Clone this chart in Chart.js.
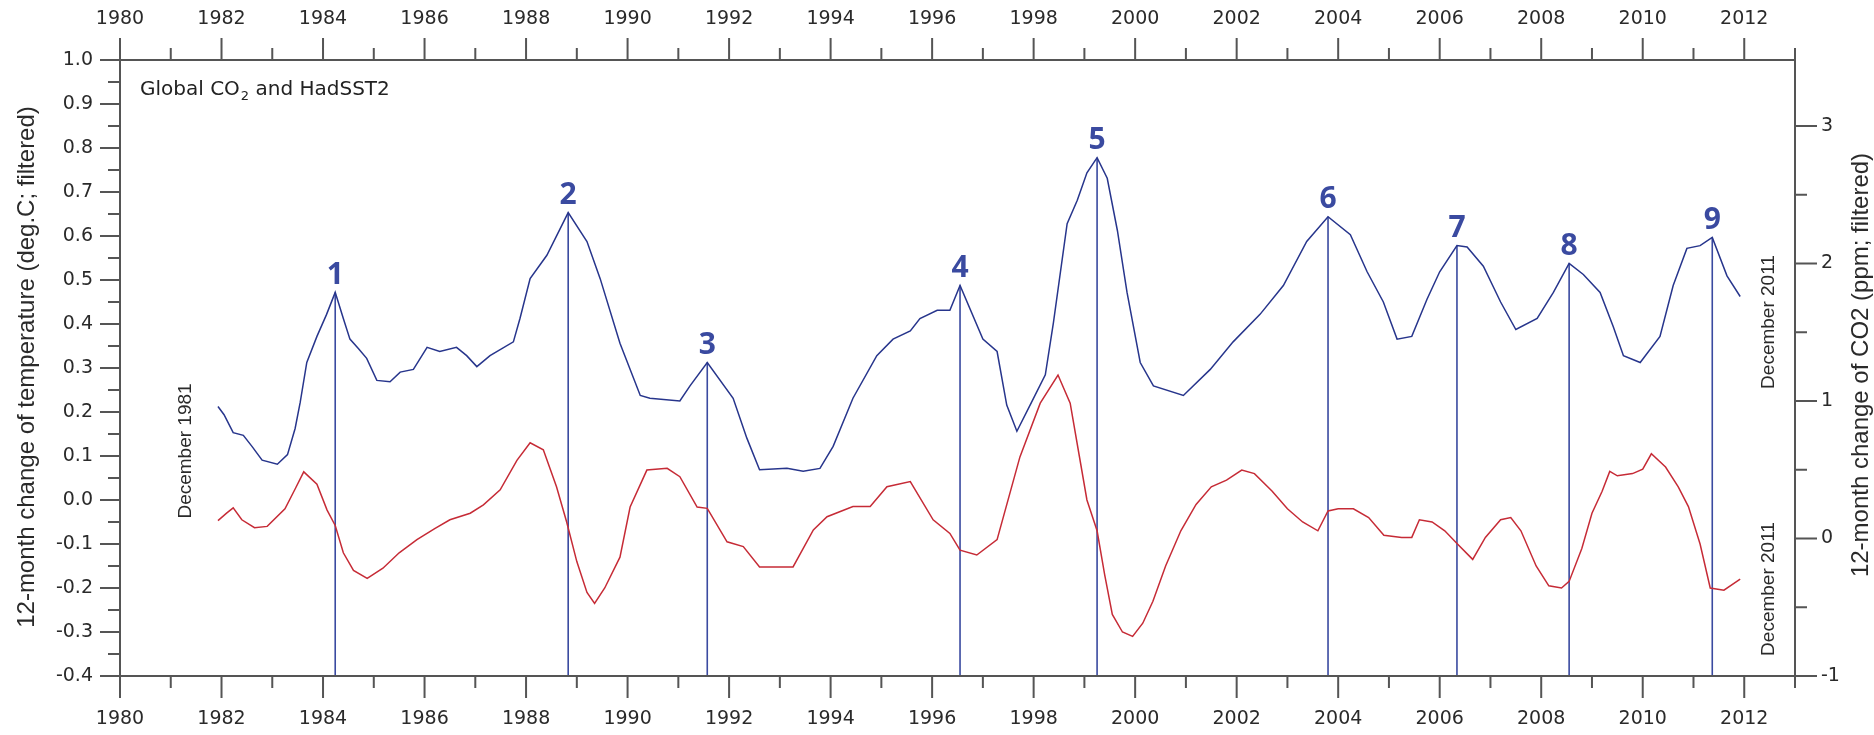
<!DOCTYPE html>
<html>
<head>
<meta charset="utf-8">
<script src="https://cdn.jsdelivr.net/npm/chart.js@4.4.1/dist/chart.umd.min.js"></script>
<style>
  html, body { margin: 0; padding: 0; background: #fff; }
  #wrap { width: 1874px; height: 735px; }
</style>
</head>
<body>
<div id="wrap"><canvas id="chart" width="1874" height="735"></canvas></div>
<script>
// 12-month change of global CO2 (ppm, filtered) - blue, right axis
const co2Years = [1981.93, 1982.05, 1982.23, 1982.43, 1982.6, 1982.8, 1983.1, 1983.3, 1983.45, 1983.55,
  1983.68, 1983.88, 1984.07, 1984.24, 1984.4, 1984.53, 1984.7, 1984.86, 1985.06, 1985.32,
  1985.52, 1985.78, 1986.05, 1986.3, 1986.63, 1986.83, 1987.03, 1987.29, 1987.75, 1987.88,
  1988.08, 1988.41, 1988.83, 1989.2, 1989.46, 1989.85, 1990.25, 1990.44, 1991.03, 1991.23,
  1991.57, 1992.08, 1992.35, 1992.6, 1993.14, 1993.46, 1993.79, 1994.05, 1994.44, 1994.91,
  1995.23, 1995.57, 1995.76, 1996.1, 1996.35, 1996.55, 1997.0, 1997.28, 1997.47, 1997.67,
  1997.93, 1998.23, 1998.39, 1998.66, 1998.86, 1999.05, 1999.25, 1999.45, 1999.65, 1999.84,
  2000.1, 2000.36, 2000.95, 2001.48, 2001.93, 2002.46, 2002.92, 2003.38, 2003.8, 2004.24,
  2004.57, 2004.89, 2005.16, 2005.45, 2005.75, 2006.0, 2006.34, 2006.54, 2006.86, 2007.2,
  2007.5, 2007.92, 2008.24, 2008.55, 2008.83, 2009.16, 2009.42, 2009.62, 2009.95, 2010.34,
  2010.6, 2010.87, 2011.13, 2011.37, 2011.66, 2011.92];
const co2Values = [0.96, 0.90, 0.77, 0.75, 0.67, 0.57, 0.54, 0.61, 0.80, 0.99,
  1.28, 1.47, 1.63, 1.79, 1.60, 1.45, 1.38, 1.31, 1.15, 1.14,
  1.21, 1.23, 1.39, 1.36, 1.39, 1.33, 1.25, 1.33, 1.43, 1.60,
  1.89, 2.06, 2.37, 2.16, 1.89, 1.42, 1.04, 1.02, 1.00, 1.11,
  1.28, 1.02, 0.73, 0.50, 0.51, 0.49, 0.51, 0.67, 1.02, 1.33,
  1.45, 1.51, 1.60, 1.66, 1.66, 1.84, 1.45, 1.36, 0.97, 0.78,
  0.97, 1.19, 1.57, 2.29, 2.46, 2.66, 2.77, 2.62, 2.24, 1.79,
  1.28, 1.11, 1.04, 1.23, 1.43, 1.63, 1.84, 2.16, 2.34, 2.21,
  1.94, 1.72, 1.45, 1.47, 1.74, 1.94, 2.13, 2.12, 1.98, 1.72,
  1.52, 1.60, 1.79, 2.00, 1.92, 1.79, 1.54, 1.33, 1.28, 1.47,
  1.84, 2.11, 2.13, 2.19, 1.91, 1.76];

// 12-month change of HadSST2 (deg.C, filtered) - red, left axis
const sstYears = [1981.93, 1982.1, 1982.23, 1982.4, 1982.65, 1982.9, 1983.25, 1983.45, 1983.62, 1983.88,
  1984.08, 1984.24, 1984.4, 1984.6, 1984.87, 1985.18, 1985.5, 1985.85, 1986.2, 1986.5,
  1986.9, 1987.16, 1987.49, 1987.82, 1988.08, 1988.34, 1988.6, 1988.8, 1989.0, 1989.2,
  1989.35, 1989.55, 1989.85, 1990.05, 1990.38, 1990.78, 1991.03, 1991.37, 1991.57, 1991.96,
  1992.28, 1992.6, 1993.26, 1993.66, 1993.93, 1994.44, 1994.78, 1995.11, 1995.57, 1996.02,
  1996.35, 1996.55, 1996.88, 1997.28, 1997.73, 1998.13, 1998.48, 1998.72, 1998.9, 1999.05,
  1999.25, 1999.4, 1999.55, 1999.75, 1999.95, 2000.15, 2000.35, 2000.6, 2000.9, 2001.2,
  2001.5, 2001.8, 2002.1, 2002.35, 2002.7, 2003.0, 2003.3, 2003.6, 2003.8, 2004.0,
  2004.3, 2004.6, 2004.9, 2005.25, 2005.45, 2005.6, 2005.85, 2006.1, 2006.35, 2006.65,
  2006.9, 2007.2, 2007.4, 2007.6, 2007.9, 2008.15, 2008.4, 2008.55, 2008.8, 2009.0,
  2009.2, 2009.35, 2009.5, 2009.8, 2010.0, 2010.17, 2010.45, 2010.7, 2010.9, 2011.13,
  2011.33, 2011.6, 2011.92];
const sstValues = [-0.047, -0.03, -0.018, -0.045, -0.063, -0.06, -0.02, 0.025, 0.064, 0.036,
  -0.023, -0.058, -0.12, -0.16, -0.178, -0.155, -0.12, -0.09, -0.065, -0.045,
  -0.03, -0.011, 0.023, 0.09, 0.13, 0.114, 0.03, -0.05, -0.14, -0.21,
  -0.235, -0.2, -0.13, -0.016, 0.068, 0.072, 0.053, -0.016, -0.019, -0.095,
  -0.106, -0.152, -0.152, -0.068, -0.038, -0.015, -0.015, 0.03, 0.042, -0.045,
  -0.076, -0.114, -0.125, -0.09, 0.098, 0.22, 0.284, 0.22, 0.10, 0.0,
  -0.07, -0.17, -0.26, -0.30, -0.31, -0.28, -0.23, -0.15, -0.07, -0.01,
  0.03, 0.045, 0.068, 0.06, 0.02, -0.02, -0.05, -0.07, -0.025, -0.02,
  -0.02, -0.04, -0.08, -0.085, -0.085, -0.045, -0.05, -0.07, -0.10, -0.135,
  -0.085, -0.045, -0.04, -0.07, -0.15, -0.195, -0.20, -0.185, -0.11, -0.03,
  0.02, 0.065, 0.055, 0.06, 0.07, 0.105, 0.075, 0.03, -0.015, -0.10,
  -0.20, -0.205, -0.18];

// numbered CO2 peaks
const peakLabels = ['1', '2', '3', '4', '5', '6', '7', '8', '9'];
const peakYears = [1984.24, 1988.83, 1991.57, 1996.55, 1999.25, 2003.8, 2006.34, 2008.55, 2011.37];
const peakValues = [1.79, 2.37, 1.28, 1.84, 2.77, 2.34, 2.13, 2.00, 2.19];

// tick labels
const yearTicks = [1980, 1982, 1984, 1986, 1988, 1990, 1992, 1994, 1996, 1998, 2000, 2002, 2004, 2006, 2008, 2010, 2012];
const tempTicks = [-0.4, -0.3, -0.2, -0.1, 0.0, 0.1, 0.2, 0.3, 0.4, 0.5, 0.6, 0.7, 0.8, 0.9, 1.0];
const co2Ticks = [-1, 0, 1, 2, 3];

const FONT = '"Liberation Sans", Arial, sans-serif';
const WIDE_FONT = '"DejaVu Sans", sans-serif';
const AXIS_COLOR = '#555555';
const TEXT_COLOR = '#2a2a2a';
const PEAK_COLOR = '#3a4aa0';

const toPoints = (xs, ys) => xs.map((x, i) => ({ x: x, y: ys[i] }));

const peakLines = peakYears.map((yr, i) => ({
    data: [{ x: yr, y: peakValues[i] }, { x: yr, y: -1 }],
    borderColor: PEAK_COLOR,
    borderWidth: 1.6,
    pointRadius: 0,
    xAxisID: 'x',
    yAxisID: 'y2'
}));

function fixTicks(values) {
    return scale => { scale.ticks = values.map(v => ({ value: v })); };
}

function drawRotated(ctx, text, x, y, font) {
    ctx.save();
    ctx.translate(x, y);
    ctx.rotate(-Math.PI / 2);
    ctx.font = font;
    ctx.textAlign = 'center';
    ctx.textBaseline = 'middle';
    ctx.fillText(text, 0, 0);
    ctx.restore();
}

const framePlugin = {
    id: 'frame',
    afterDraw(chart) {
        const ctx = chart.ctx;
        const { left, right, top, bottom } = chart.chartArea;
        const xs = chart.scales.x, yl = chart.scales.y, yr = chart.scales.y2;

        ctx.save();
        ctx.strokeStyle = AXIS_COLOR;
        ctx.lineWidth = 2;
        ctx.beginPath();
        ctx.moveTo(left, top); ctx.lineTo(right, top);
        ctx.moveTo(left, bottom); ctx.lineTo(right, bottom);
        ctx.moveTo(left, top); ctx.lineTo(left, bottom);
        ctx.moveTo(right, top); ctx.lineTo(right, bottom);

        // year ticks, top and bottom
        for (let yr0 = 1980; yr0 <= 2013; yr0++) {
            const px = xs.getPixelForValue(yr0);
            const len = yr0 % 2 === 0 ? 22 : 12;
            ctx.moveTo(px, bottom); ctx.lineTo(px, bottom + len);
            ctx.moveTo(px, top); ctx.lineTo(px, top - len);
        }
        // temperature ticks, left
        for (let k = -8; k <= 20; k++) {
            const py = yl.getPixelForValue(k * 0.05);
            const len = k % 2 === 0 ? 20 : 12;
            ctx.moveTo(left, py); ctx.lineTo(left - len, py);
        }
        // CO2 ticks, right
        for (let k = -2; k <= 6; k++) {
            const py = yr.getPixelForValue(k * 0.5);
            const len = k % 2 === 0 ? 22 : 12;
            ctx.moveTo(right, py); ctx.lineTo(right + len, py);
        }
        ctx.stroke();

        // peak numbers
        ctx.fillStyle = PEAK_COLOR;
        ctx.font = 'bold 30px "Open Sans", sans-serif';
        ctx.textAlign = 'center';
        ctx.textBaseline = 'bottom';
        peakLabels.forEach((lab, i) => {
            const px = xs.getPixelForValue(peakYears[i]);
            const py = yr.getPixelForValue(peakValues[i]);
            ctx.fillText(lab, px, py - 2);
        });

        // panel title with subscript
        ctx.fillStyle = '#222';
        ctx.textAlign = 'left';
        ctx.textBaseline = 'alphabetic';
        ctx.font = '20px ' + WIDE_FONT;
        let tx = left + 20;
        const ty = top + 35;
        ctx.fillText('Global CO', tx, ty);
        tx += ctx.measureText('Global CO').width;
        ctx.font = '13px ' + WIDE_FONT;
        ctx.fillText('2', tx + 1, ty + 5);
        tx += ctx.measureText('2').width + 1;
        ctx.font = '20px ' + WIDE_FONT;
        ctx.fillText(' and HadSST2', tx, ty);

        // axis titles and date marks
        ctx.fillStyle = TEXT_COLOR;
        drawRotated(ctx, '12-month change of temperature (deg.C; filtered)', 27, 367, '24px ' + FONT);
        drawRotated(ctx, '12-month change of CO2 (ppm; filtered)', 1861, 365, '24px ' + FONT);
        drawRotated(ctx, 'December 1981', 186, 451, '19px ' + FONT);
        drawRotated(ctx, 'December 2011', 1769, 322, '19px ' + FONT);
        drawRotated(ctx, 'December 2011', 1769, 589, '19px ' + FONT);
        ctx.restore();
    }
};

const yearAxis = (position, size, pad) => ({
    type: 'linear',
    position: position,
    axis: 'x',
    min: 1980,
    max: 2013,
    afterBuildTicks: fixTicks(yearTicks),
    afterFit: s => { s.height = size; },
    grid: { display: false, drawTicks: false },
    border: { display: false },
    ticks: {
        autoSkip: false,
        maxRotation: 0,
        padding: pad,
        color: TEXT_COLOR,
        font: { family: WIDE_FONT, size: 19 },
        callback: v => String(v)
    }
});

new Chart(document.getElementById('chart'), {
    type: 'line',
    data: {
        datasets: [
            {
                label: 'CO2',
                data: toPoints(co2Years, co2Values),
                borderColor: '#27358c',
                borderWidth: 1.5,
                pointRadius: 0,
                tension: 0,
                xAxisID: 'x',
                yAxisID: 'y2'
            },
            {
                label: 'HadSST2',
                data: toPoints(sstYears, sstValues),
                borderColor: '#c62b36',
                borderWidth: 1.5,
                pointRadius: 0,
                tension: 0,
                xAxisID: 'x',
                yAxisID: 'y'
            },
            ...peakLines
        ]
    },
    options: {
        responsive: false,
        animation: false,
        layout: { padding: 0 },
        plugins: {
            legend: { display: false },
            tooltip: { enabled: false }
        },
        scales: {
            x: yearAxis('bottom', 59, 32),
            x2: yearAxis('top', 60, 30),
            y: {
                type: 'linear',
                position: 'left',
                min: -0.4,
                max: 1.0,
                afterBuildTicks: fixTicks(tempTicks),
                afterFit: s => { s.width = 120; },
                grid: { display: false, drawTicks: false },
                border: { display: false },
                ticks: {
                    padding: 27,
                    color: TEXT_COLOR,
                    font: { family: WIDE_FONT, size: 19 },
                    callback: v => v.toFixed(1)
                }
            },
            y2: {
                type: 'linear',
                position: 'right',
                min: -1,
                max: 3.48,
                afterBuildTicks: fixTicks(co2Ticks),
                afterFit: s => { s.width = 79; },
                grid: { display: false, drawTicks: false },
                border: { display: false },
                ticks: {
                    padding: 26,
                    color: TEXT_COLOR,
                    font: { family: WIDE_FONT, size: 19 },
                    callback: v => String(v)
                }
            }
        }
    },
    plugins: [framePlugin]
});
</script>
</body>
</html>
